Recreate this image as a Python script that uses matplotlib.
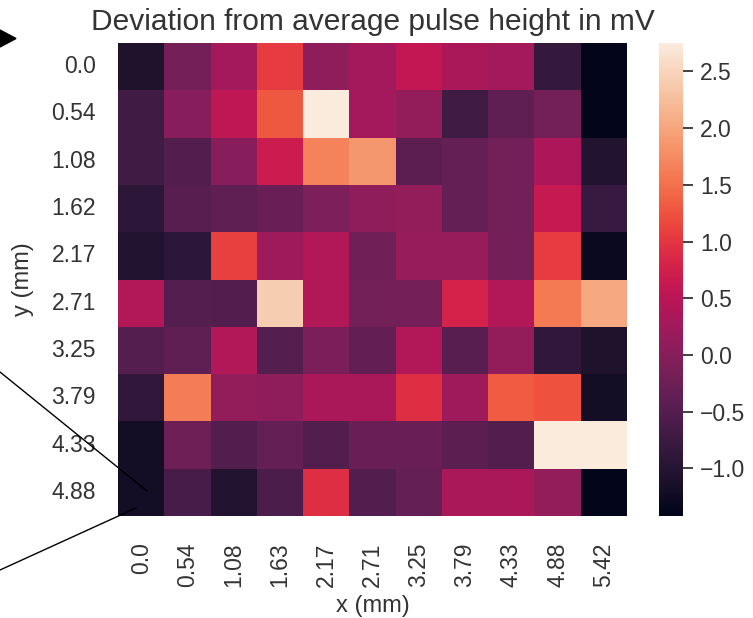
import numpy as np
import matplotlib
matplotlib.use("Agg")
import matplotlib.pyplot as plt
import seaborn as sns
from matplotlib.lines import Line2D

# Deviation from average pulse height (mV), rows = y positions, cols = x positions
x_labels = ["0.0", "0.54", "1.08", "1.63", "2.17", "2.71", "3.25", "3.79", "4.33", "4.88", "5.42"]
y_labels = ["0.0", "0.54", "1.08", "1.62", "2.17", "2.71", "3.25", "3.79", "4.33", "4.88"]

row_00 = [-1.09, -0.17, 0.29, 1.04, 0.08, 0.27, 0.58, 0.33, 0.29, -0.84, -1.42]
row_05 = [-0.71, 0.00, 0.54, 1.29, 2.75, 0.27, 0.12, -0.71, -0.38, -0.19, -1.42]
row_11 = [-0.71, -0.54, 0.00, 0.67, 1.67, 1.87, -0.42, -0.34, -0.19, 0.37, -1.04]
row_16 = [-0.92, -0.46, -0.38, -0.29, -0.09, 0.08, 0.12, -0.34, -0.19, 0.62, -0.79]
row_22 = [-1.04, -0.92, 1.08, 0.21, 0.41, -0.21, 0.16, 0.16, -0.17, 1.04, -1.30]
row_27 = [0.41, -0.50, -0.54, 2.42, 0.41, -0.19, -0.17, 0.79, 0.41, 1.58, 2.04]
row_33 = [-0.50, -0.38, 0.41, -0.50, -0.13, -0.36, 0.41, -0.46, 0.12, -0.88, -1.09]
row_38 = [-0.88, 1.62, 0.12, 0.08, 0.33, 0.33, 0.92, 0.21, 1.33, 1.25, -1.21]
row_43 = [-1.21, -0.25, -0.54, -0.34, -0.54, -0.29, -0.29, -0.42, -0.54, 2.75, 2.75]
row_49 = [-1.21, -0.63, -1.04, -0.59, 0.92, -0.54, -0.34, 0.33, 0.33, 0.12, -1.42]

data = np.array([row_00, row_05, row_11, row_16, row_22,
                 row_27, row_33, row_38, row_43, row_49])

sns.set_theme()
plt.rcParams['font.family'] = ['Liberation Sans', 'DejaVu Sans']

W, H = 753, 618
fig = plt.figure(figsize=(W / 100, H / 100), dpi=100)

def box(x0, y0, x1, y1):
    # pixel box -> figure fraction rect
    return [x0 / W, 1 - y1 / H, (x1 - x0) / W, (y1 - y0) / H]

ax = fig.add_axes(box(118, 43, 627, 516))
cax = fig.add_axes(box(659, 43, 683, 516))

sns.heatmap(data, ax=ax, cbar_ax=cax, cmap="rocket",
            xticklabels=x_labels, yticklabels=y_labels)

txt = "#333333"
ax.set_title("Deviation from average pulse height in mV", fontsize=21.5, color=txt, pad=9)
ax.set_xlabel("x (mm)", fontsize=17, color=txt, labelpad=6)
ax.set_ylabel("y (mm)", fontsize=17, color=txt, labelpad=12)
ax.tick_params(axis="x", labelsize=16.5, labelcolor=txt, pad=13, rotation=90)
ax.tick_params(axis="y", labelsize=16.5, labelcolor=txt, pad=10, rotation=0)
cax.tick_params(labelsize=16.5, labelcolor=txt, length=7.2, width=1.3, color=txt, pad=5)

# leftover annotation strokes from the original figure
fig.add_artist(Line2D([0 / W, 147 / W], [1 - 372 / H, 1 - 491 / H], color="black", lw=1))
fig.add_artist(Line2D([0 / W, 136 / W], [1 - 570 / H, 1 - 508 / H], color="black", lw=1))
fig.add_artist(plt.Polygon([[0 / W, 1 - 30 / H], [0 / W, 1 - 47 / H], [16 / W, 1 - 38.5 / H]],
                           closed=True, color="black", transform=fig.transFigure))

fig.savefig("out.png", dpi=100)
